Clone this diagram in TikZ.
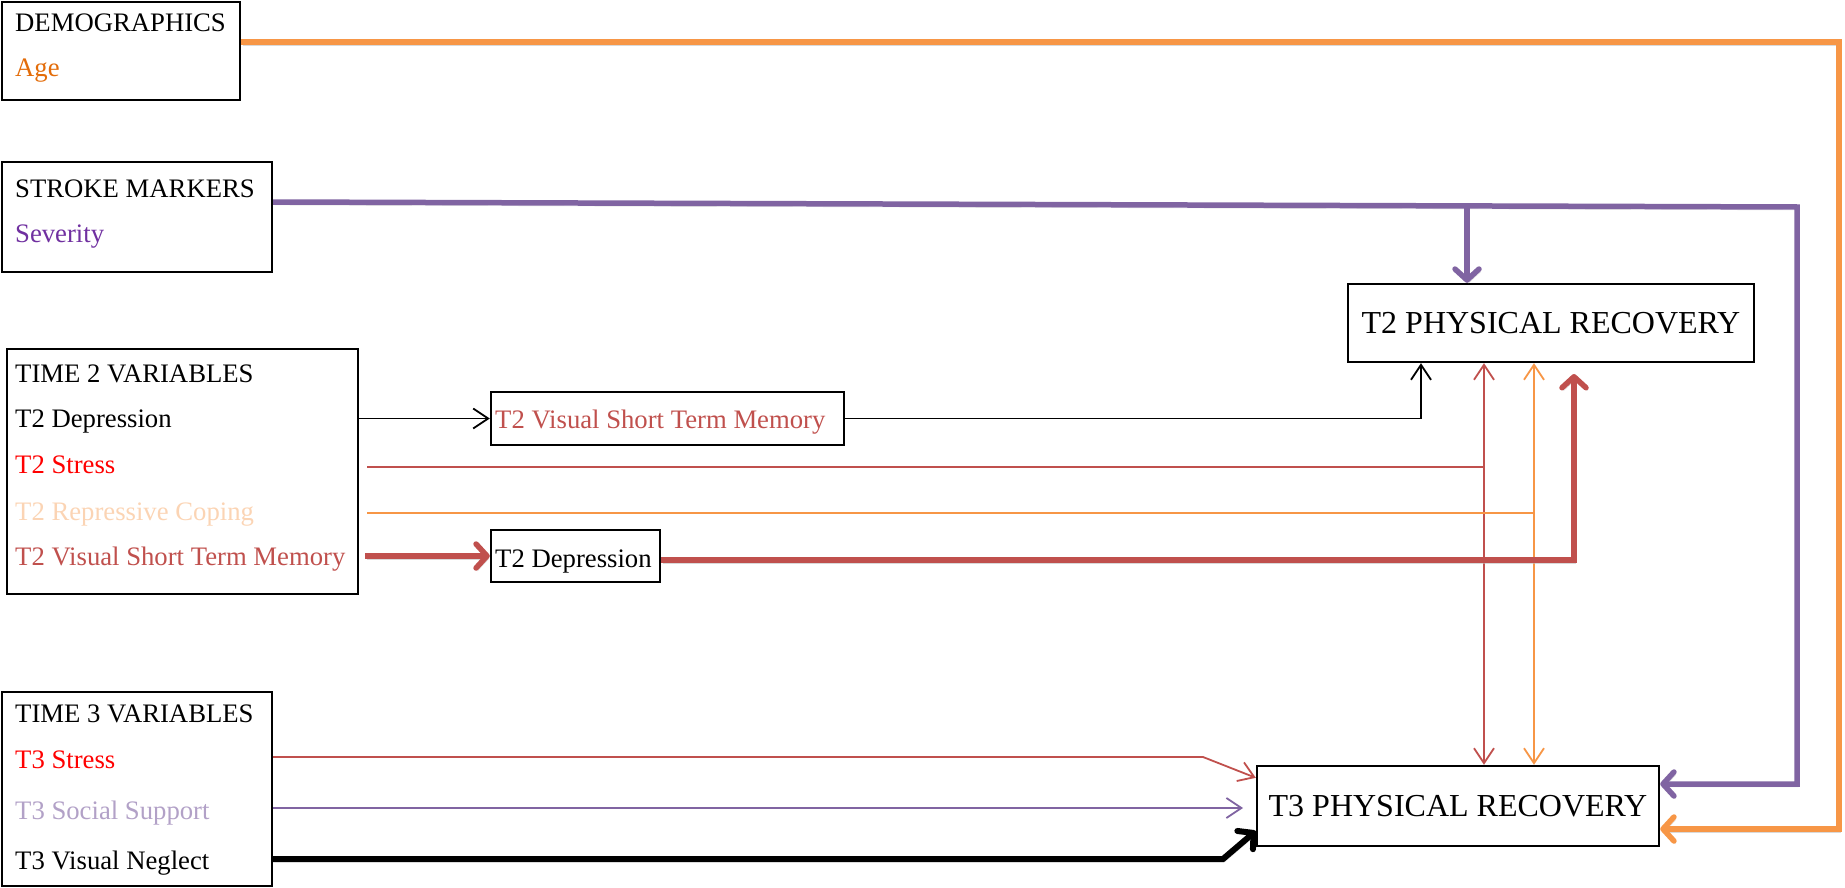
\documentclass[tikz,border=0pt]{standalone}
\usepackage{fontspec}
\setmainfont{Liberation Serif}
\usetikzlibrary{arrows.meta}
\definecolor{ageor}{HTML}{E36C09}
\definecolor{lnor}{HTML}{F79646}
\definecolor{lnpu}{HTML}{8064A2}
\definecolor{sevpu}{HTML}{7030A0}
\definecolor{lnred}{HTML}{C0504D}
\definecolor{peach}{HTML}{FBD4B4}
\definecolor{lilac}{HTML}{B2A1C7}
\begin{document}
\begin{tikzpicture}[x=1pt,y=1pt,
  box/.style={draw=black, line width=2.4pt, rectangle, inner sep=0pt},
  lbl/.style={anchor=base west, inner sep=0pt, font=\fontsize{26.7}{30}\selectfont},
  big/.style={font=\fontsize{32}{36}\selectfont},
  thinl/.style={line width=1.8pt},
  heavy/.style={line width=5.5pt,
    preaction={draw=black!25, opacity=0.6, transform canvas={shift={(1.5,-3)}}}},
  tipT/.style={-{Straight Barb[length=15pt,width=20pt]}},
  tipTT/.style={{Straight Barb[length=15pt,width=20pt]}-{Straight Barb[length=15pt,width=20pt]}},
  tipH/.style={-{Straight Barb[length=11pt,width=24pt,round]}}
]
\useasboundingbox (0,0) rectangle (1845,-888);

% ---- boxes
\node[box, minimum width=238, minimum height=98] (demo) at (121,-51) {};
\node[box, minimum width=270, minimum height=110] (sm) at (137,-217) {};
\node[box, minimum width=351, minimum height=245] (t2v) at (182.5,-471.5) {};
\node[box, minimum width=270, minimum height=194] (t3v) at (137,-789) {};
\node[box, minimum width=353, minimum height=53] (vstm) at (667.5,-418.5) {};
\node[box, minimum width=169, minimum height=52] (dep) at (575.5,-556) {};
\node[box, big, minimum width=406, minimum height=78] (t2rec) at (1551,-323) {T2 PHYSICAL RECOVERY};
\node[box, big, minimum width=402, minimum height=80] (t3rec) at (1458,-806) {T3 PHYSICAL RECOVERY};

% ---- texts
\node[lbl] (demoA) at (15,-32) {DEMOGRAPHICS};
\node[lbl, text=ageor] (demoB) at (15,-77) {Age};
\node[lbl] (smA) at (15,-197) {STROKE MARKERS};
\node[lbl, text=sevpu] (smB) at (15,-242) {Severity};
\node[lbl] (t2a) at (15,-382) {TIME 2 VARIABLES};
\node[lbl] (t2b) at (15,-427) {T2 Depression};
\node[lbl, text=red] (t2c) at (15,-473) {T2 Stress};
\node[lbl, text=peach] (t2d) at (15,-520) {T2 Repressive Coping};
\node[lbl, text=lnred] (t2e) at (15,-565) {T2 Visual Short Term Memory};
\node[lbl] (t3a) at (15,-722) {TIME 3 VARIABLES};
\node[lbl, text=red] (t3b) at (15,-768) {T3 Stress};
\node[lbl, text=lilac] (t3c) at (15,-819) {T3 Social Support};
\node[lbl] (t3d) at (15,-869) {T3 Visual Neglect};
\node[lbl, text=lnred] (vstmT) at (495,-428) {T2 Visual Short Term Memory};
\node[lbl] (depT) at (495,-567) {T2 Depression};

% ---- free ends and bends
\coordinate (orR) at (1839,-42);
\coordinate (orD) at (1839,-829);
\coordinate (puR) at (1797,-207);
\coordinate (puD) at (1797,-784);
\coordinate (puJ) at (1467,-206);
\coordinate (stS) at (367,-467);
\coordinate (stE) at (1484,-467);
\coordinate (rcS) at (367,-513);
\coordinate (rcE) at (1534,-513);
\coordinate (vmS) at (365,-556);
\coordinate (dpB) at (1574,-560);
\coordinate (dpE) at (1574,-374);
\coordinate (s3B) at (1203,-757);
\coordinate (ss3E) at (1243,-808);
\coordinate (vn3B) at (1223,-859);

% ---- connectors
\draw[heavy, lnor, tipH] (demo.east |- orR) -- (orR) -- (orD) -- (t3rec.east |- orD);
\draw[heavy, lnpu, tipH] (sm.east |- 0,-202) -- (puR) -- (puD) -- (t3rec.east |- puD);
\draw[heavy, lnpu, tipH] (puJ) -- (puJ |- t2rec.north);

\draw[thinl, tipT] (t2v.east |- vstm.west) -- (vstm.west);
\draw[thinl, tipT] (vstm.east) -- (1421,0 |- vstm.east) -- (1421,0 |- t2rec.south);

\draw[thinl, lnred] (stS) -- (stE);
\draw[thinl, lnred, tipTT] (stE |- t2rec.south) -- (stE |- t3rec.north);
\draw[thinl, lnor] (rcS) -- (rcE);
\draw[thinl, lnor, tipTT] (rcE |- t2rec.south) -- (rcE |- t3rec.north);

\draw[heavy, lnred, tipH] (vmS) -- (dep.west);
\draw[heavy, lnred, tipH] (dep.east |- dpB) -- (dpB) -- (dpE);

\draw[thinl, lnred, tipT] (t3v.east |- s3B) -- (s3B) -- ([yshift=-13]t3rec.north west);
\draw[thinl, lnpu, tipT] (t3v.east |- ss3E) -- (ss3E);
\draw[heavy, line width=6pt, tipH] (t3v.east |- vn3B) -- (vn3B) -- ([yshift=-25]t3rec.west);
\end{tikzpicture}
\end{document}
